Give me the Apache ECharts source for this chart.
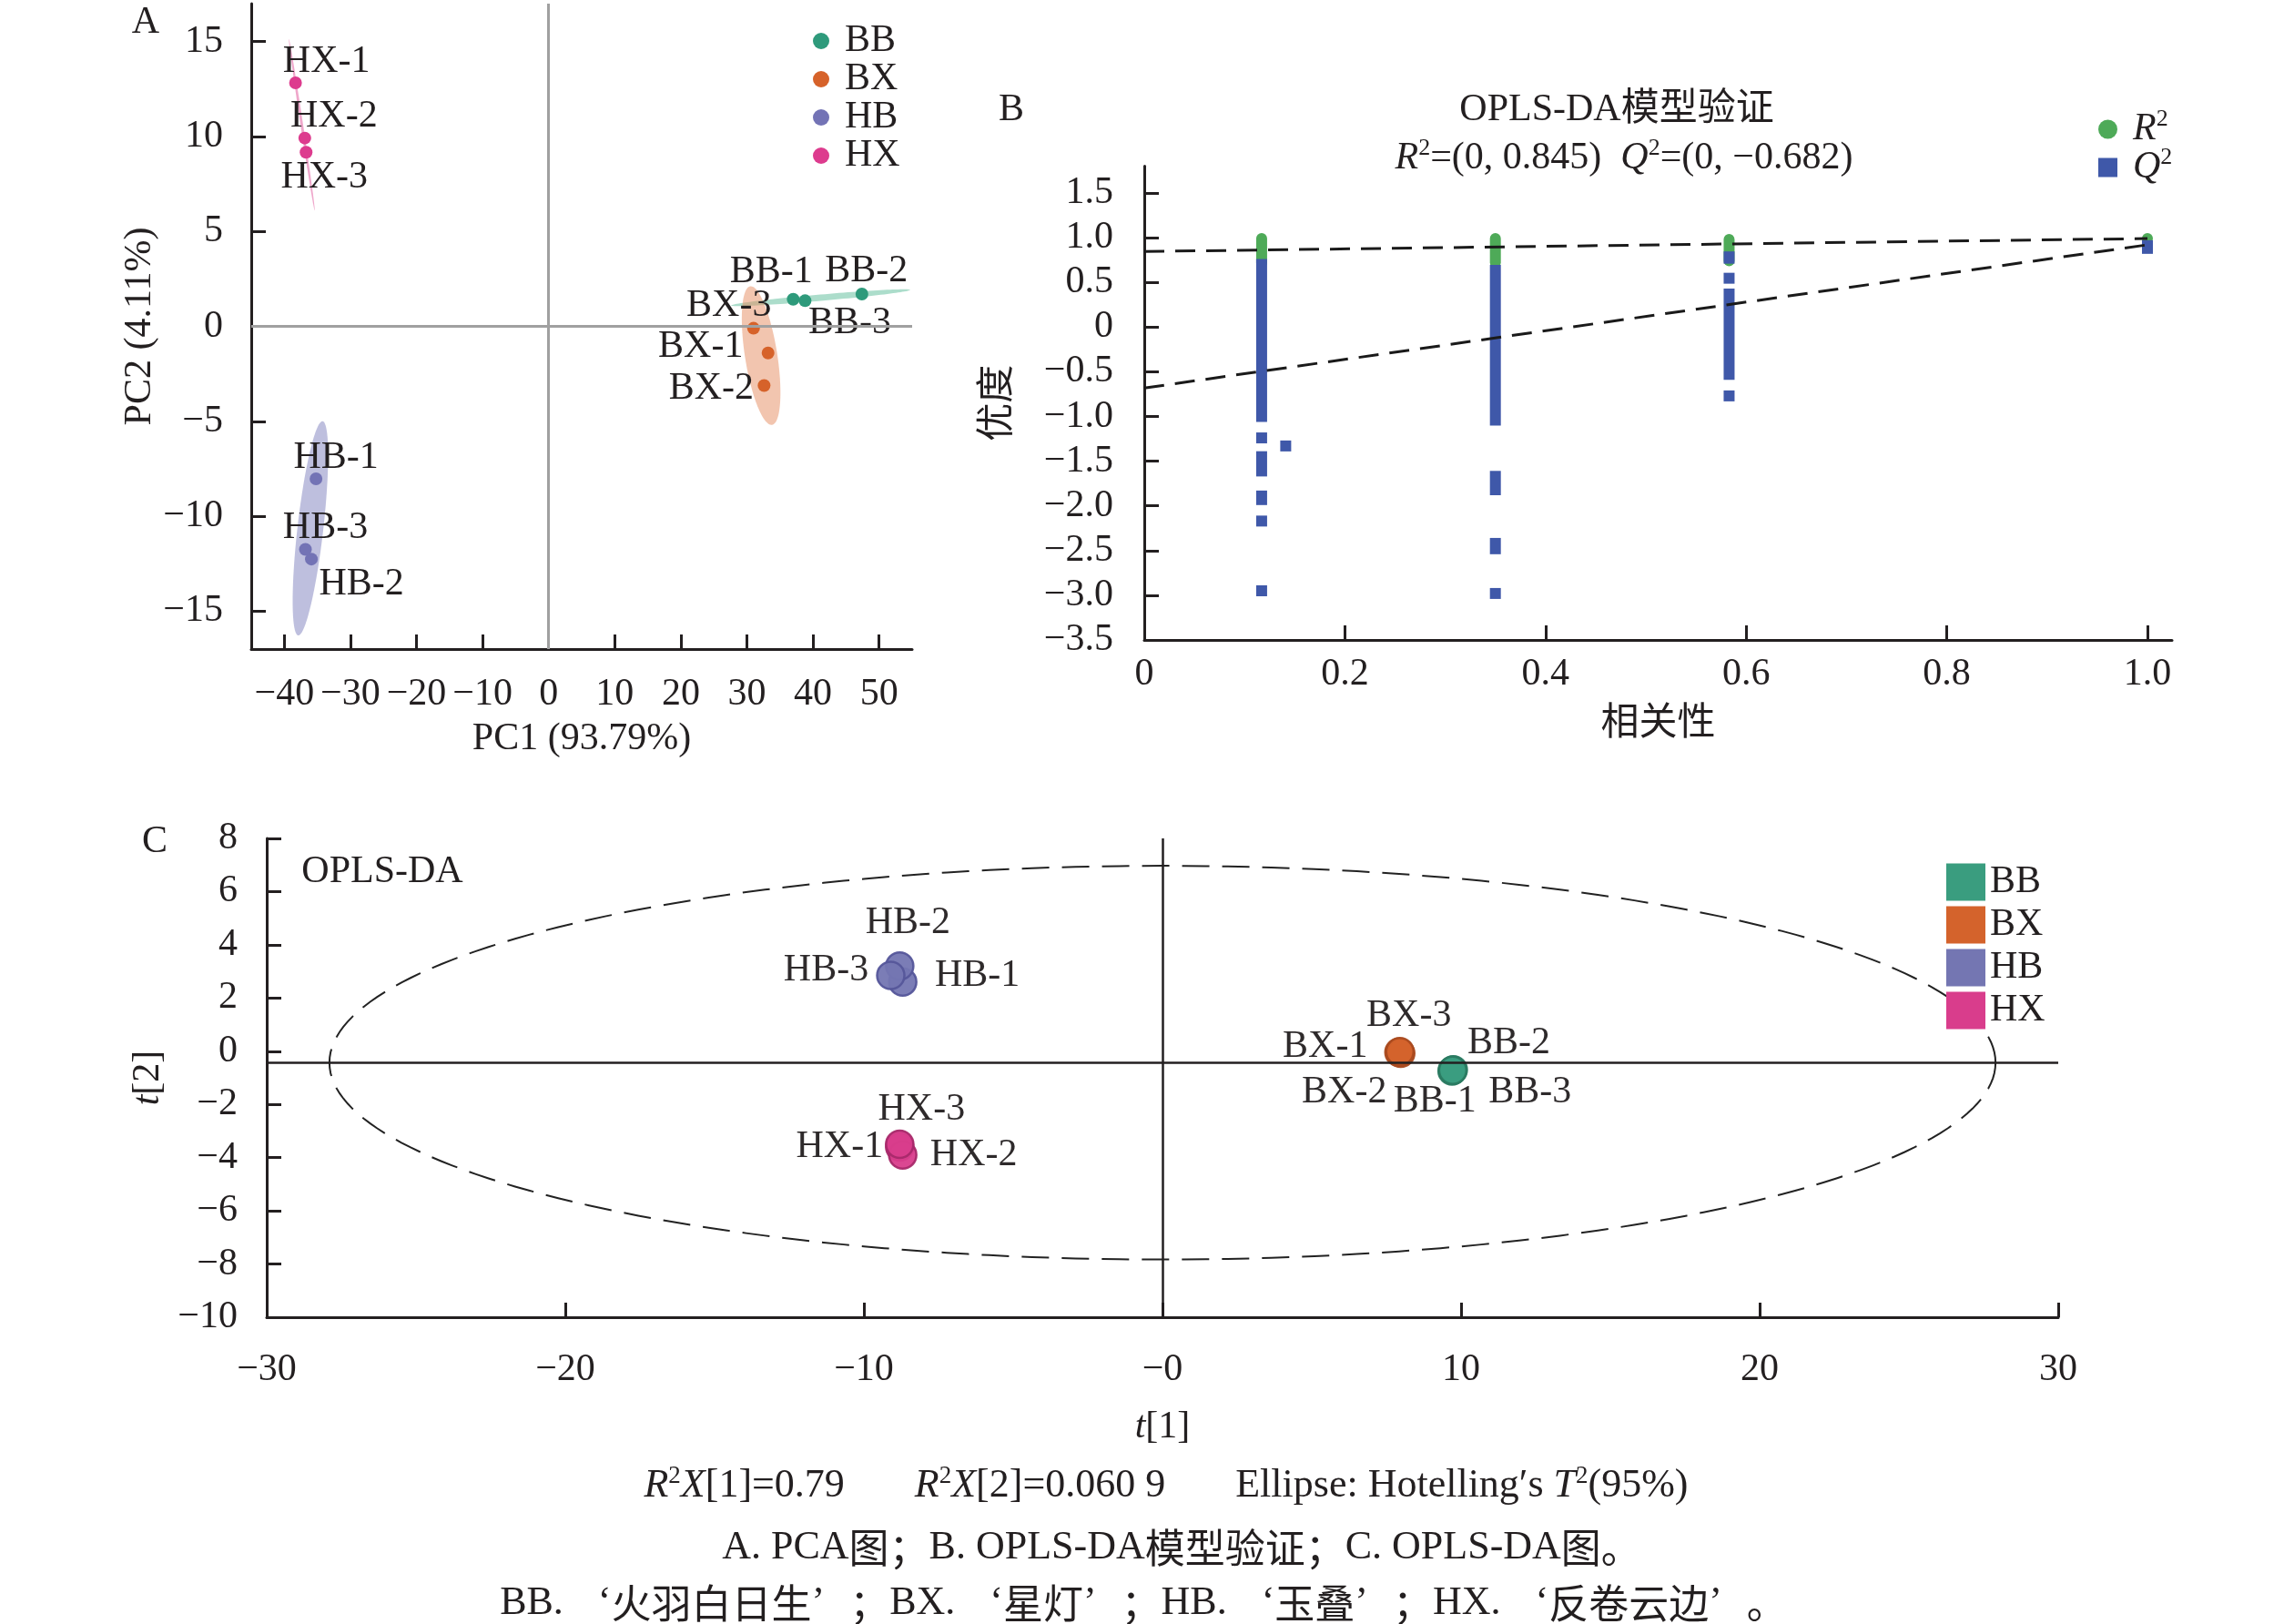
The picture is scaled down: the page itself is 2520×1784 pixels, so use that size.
<!DOCTYPE html>
<html><head><meta charset="utf-8">
<script src="https://cdn.jsdelivr.net/npm/echarts@6/dist/echarts.min.js"></script>
<style>html,body{margin:0;padding:0;background:#fff}#chart{width:2520px;height:1784px}</style>
</head><body><div id="chart"></div>
<script>
// ---------------- DATA ----------------
const groups = ['BB', 'BX', 'HB', 'HX'];
// Panel A: PCA scores [PC1, PC2] for replicates -1, -2, -3
const pcaBB = [[37.0, 1.43], [47.4, 1.70], [38.8, 1.35]];
const pcaBX = [[33.2, -1.40], [32.6, -3.12], [31.0, -0.10]];
const pcaHB = [[-35.2, -8.03], [-35.9, -12.26], [-36.8, -11.75]];
const pcaHX = [[-38.3, 12.83], [-36.9, 9.92], [-36.7, 9.17]];
// Panel A confidence ellipses: [end1 PC1, end1 PC2, end2 PC1, end2 PC2, minor/major ratio]
const pcaEllBB = [27.6, 1.10, 54.7, 1.92, 0.035];
const pcaEllBX = [30.5, 2.11, 33.8, -5.19, 0.23];
const pcaEllHB = [-34.2, -5.0, -37.9, -16.28, 0.12];
const pcaEllHX = [-39.3, 15.13, -35.4, 6.1, 0.015];
const pcaXTicks = [-40, -30, -20, -10, 0, 10, 20, 30, 40, 50];
const pcaYTicks = [-15, -10, -5, 0, 5, 10, 15];

// Panel B: permutation test, stacks of points [correlation, top value, bottom value]
const r2Stacks = [[0.117, 0.99, 0.72], [0.35, 0.99, 0.72], [0.583, 0.98, 0.74], [1.0, 0.99, 0.99]];
const q2Stacks = [
  [0.117, 0.70, -1.00], [0.117, -1.24, -1.24], [0.117, -1.45, -1.61], [0.117, -1.89, -1.93],
  [0.117, -2.17, -2.17], [0.117, -2.95, -2.95], [0.141, -1.33, -1.33],
  [0.35, 0.635, -1.04], [0.35, -1.67, -1.82], [0.35, -2.42, -2.48], [0.35, -2.98, -2.98],
  [0.583, 0.785, 0.77], [0.583, 0.546, 0.546], [0.583, 0.37, -0.53], [0.583, -0.77, -0.77],
  [1.0, 0.91, 0.88]
];
const r2Fit = [[0, 0.845], [1.0, 0.99]];
const q2Fit = [[0, -0.682], [1.0, 0.92]];
const permXTicks = [0, 0.2, 0.4, 0.6, 0.8, 1.0];
const permYTicks = [-3.5, -3.0, -2.5, -2.0, -1.5, -1.0, -0.5, 0, 0.5, 1.0, 1.5];

// Panel C: OPLS-DA scores [t1, t2] for replicates -1, -2, -3
const oplsBB = [[9.70, -0.74], [9.74, -0.70], [9.72, -0.72]];
const oplsBX = [[7.92, -0.04], [7.98, -0.08], [7.95, -0.02]];
const oplsHB = [[-8.7, 2.6], [-8.8, 3.2], [-9.1, 2.85]];
const oplsHX = [[-8.8, -3.6], [-8.7, -3.9], [-8.8, -3.5]];
// Hotelling T2 ellipse: [center t1, center t2, semi-axis t1, semi-axis t2]
const oplsEllipse = [0, -0.43, 27.9, 7.4];
const oplsCenterT2 = -0.43;

// ---------------- STYLE ----------------
const T = '#231f20';
const FONT = "'Liberation Serif','Noto Sans CJK SC',serif";
const CJK = "'Noto Sans CJK SC',sans-serif";
const FS = 42;
const colA = {BB: '#2e9a7b', BX: '#d6622a', HB: '#7373b5', HX: '#dd3b8e'};
const colC = {BB: '#3a9d7f', BX: '#d4632c', HB: '#7476b2', HX: '#d93d8c'};
const borderC = {BB: '#2a7a61', BX: '#a94a1f', HB: '#55569a', HX: '#a8296a'};
const ellFillA = {BB: 'rgba(70,180,140,0.45)', BX: 'rgba(230,140,95,0.5)', HB: 'rgba(125,128,190,0.5)', HX: 'rgba(220,60,140,0.45)'};
const pcaSets = {BB: pcaBB, BX: pcaBX, HB: pcaHB, HX: pcaHX};
const pcaEll = {BB: pcaEllBB, BX: pcaEllBX, HB: pcaEllHB, HX: pcaEllHX};
const oplsSets = {BB: oplsBB, BX: oplsBX, HB: oplsHB, HX: oplsHX};
const offA = {'HX-1': [34, -23], 'HX-2': [32, -24], 'HX-3': [20, 28], 'HB-1': [22, -23], 'HB-3': [22, -24], 'HB-2': [55, 28],
  'BB-1': [-24, -30], 'BB-2': [5, -25], 'BB-3': [49, 25], 'BX-3': [-27, -25], 'BX-1': [-74, -7], 'BX-2': [-58, 3]};
const offC = {'HB-2': [9, -47], 'HB-3': [-71, -6], 'HB-1': [82, -7], 'HX-3': [24, -38], 'HX-1': [-66, 0], 'HX-2': [78, 0],
  'BX-3': [10, -39], 'BX-1': [-81, -6], 'BX-2': [-62, 43], 'BB-2': [61, -29], 'BB-1': [-19, 34], 'BB-3': [85, 24]};

const minus = s => String(s).replace(/-/g, '\u2212');
function makeRich(fs) {
  return {
    i: {fontStyle: 'italic', fontSize: fs, fontFamily: FONT, color: T, fill: T, lineHeight: 48},
    s: {fontSize: Math.round(fs * 0.62), fontFamily: FONT, color: T, fill: T, verticalAlign: 'top', lineHeight: 26},
    n: {fontSize: fs, fontFamily: FONT, color: T, fill: T, lineHeight: 48},
    ql: {fontSize: fs, fontFamily: FONT, color: T, fill: T, lineHeight: 48, padding: [0, 0, 0, Math.round(fs * 0.62)]},
    qr: {fontSize: fs, fontFamily: FONT, color: T, fill: T, lineHeight: 48, padding: [0, Math.round(fs * 0.62), 0, 0]},
    c: {fontSize: fs, fontFamily: CJK, color: T, fill: T, lineHeight: 48}
  };
}
const rich = makeRich(FS);
const richCap = makeRich(44);
const txt = {color: T, fontSize: FS, fontFamily: FONT};

function axisBase(extra) {
  return Object.assign({
    type: 'value',
    axisLine: {onZero: false, lineStyle: {color: T, width: 3}},
    axisTick: {inside: true, length: 16, lineStyle: {color: T, width: 3}},
    splitLine: {show: false},
    nameLocation: 'middle',
    nameTextStyle: Object.assign({rich: rich}, txt)
  }, extra);
}

function ellipseA(params, api) {
  const p1 = api.coord([api.value(0), api.value(1)]);
  const p2 = api.coord([api.value(2), api.value(3)]);
  const ratio = api.value(4);
  const cx = (p1[0] + p2[0]) / 2, cy = (p1[1] + p2[1]) / 2;
  const dx = (p2[0] - p1[0]) / 2, dy = (p2[1] - p1[1]) / 2;
  const a = Math.hypot(dx, dy), ux = dx / a, uy = dy / a, b = Math.max(a * ratio, 1.2);
  const pts = [];
  for (let k = 0; k < 120; k++) {
    const t = k / 120 * 2 * Math.PI;
    pts.push([cx + a * Math.cos(t) * ux - b * Math.sin(t) * uy, cy + a * Math.cos(t) * uy + b * Math.sin(t) * ux]);
  }
  return {type: 'polygon', shape: {points: pts}, style: {fill: api.visual('color')}};
}

function ellipseC(params, api) {
  const cx = api.value(0), cy = api.value(1), rx = api.value(2), ry = api.value(3);
  const pts = [];
  for (let k = 0; k <= 240; k++) {
    const t = k / 240 * 2 * Math.PI;
    pts.push(api.coord([cx + rx * Math.cos(t), cy + ry * Math.sin(t)]));
  }
  return {type: 'polyline', shape: {points: pts}, style: {stroke: '#222', fill: null, lineWidth: 2, lineDash: [30, 14]}};
}

function stackItem(w, r) {
  return function (params, api) {
    const x = api.value(0);
    const p1 = api.coord([x, api.value(1)]);
    const p2 = api.coord([x, api.value(2)]);
    return {type: 'rect', shape: {x: p1[0] - w / 2, y: p1[1] - w / 2, width: w, height: p2[1] - p1[1] + w, r: r},
      style: {fill: api.visual('color')}};
  };
}

const series = [];
// Panel A ellipses
groups.forEach(g => series.push({
  type: 'custom', xAxisIndex: 0, yAxisIndex: 0, z: 1, silent: true, clip: true,
  itemStyle: {color: ellFillA[g]}, renderItem: ellipseA, data: [pcaEll[g]]
}));
// Panel A zero lines
series.push({
  type: 'line', xAxisIndex: 0, yAxisIndex: 0, data: [], z: 2, silent: true,
  markLine: {silent: true, symbol: ['none', 'none'], label: {show: false}, animation: false,
    lineStyle: {color: '#a0a0a0', width: 3, type: 'solid'}, data: [{xAxis: 0}, {yAxis: 0}]}
});
// Panel A points
groups.forEach(g => series.push({
  name: g, type: 'scatter', xAxisIndex: 0, yAxisIndex: 0, z: 4, symbolSize: 14,
  itemStyle: {color: colA[g], opacity: 1},
  label: Object.assign({show: true, position: 'inside', formatter: '{b}'}, txt),
  data: pcaSets[g].map((p, i) => {
    const nm = g + '-' + (i + 1);
    return {name: nm, value: p, label: {offset: offA[nm]}};
  })
}));
// Panel B
series.push({name: 'R2', type: 'custom', xAxisIndex: 1, yAxisIndex: 1, z: 2, itemStyle: {color: '#4eaa58'},
  renderItem: stackItem(12, 6), data: r2Stacks});
series.push({name: 'Q2', type: 'custom', xAxisIndex: 1, yAxisIndex: 1, z: 3, itemStyle: {color: '#3f58a9'},
  renderItem: stackItem(12, 0), data: q2Stacks});
[r2Fit, q2Fit].forEach(d => series.push({
  type: 'line', xAxisIndex: 1, yAxisIndex: 1, z: 5, symbol: 'none', silent: true, data: d,
  lineStyle: {color: '#1a1a1a', width: 3, type: [22, 12]}
}));
// Panel C ellipse and reference lines
series.push({type: 'custom', xAxisIndex: 2, yAxisIndex: 2, z: 1, silent: true, renderItem: ellipseC, data: [oplsEllipse]});
series.push({
  type: 'line', xAxisIndex: 2, yAxisIndex: 2, data: [], z: 2, silent: true,
  markLine: {silent: true, symbol: ['none', 'none'], label: {show: false}, animation: false,
    lineStyle: {color: T, width: 2.5, type: 'solid'}, data: [{xAxis: 0}, {yAxis: oplsCenterT2}]}
});
groups.forEach(g => series.push({
  name: g, type: 'scatter', xAxisIndex: 2, yAxisIndex: 2, z: 4, symbolSize: 30,
  itemStyle: {color: colC[g], borderColor: borderC[g], borderWidth: 2.5, opacity: 0.95},
  label: Object.assign({show: true, position: 'inside', formatter: '{b}'}, txt),
  data: oplsSets[g].map((p, i) => {
    const nm = g + '-' + (i + 1);
    return {name: nm, value: p, label: {offset: offC[nm]}};
  })
}));

function gText(x, y, text, fs, r) {
  return {type: 'text', x: x, y: y, silent: true, z: 10,
    style: {text: text, fill: T, fontSize: fs || FS, fontFamily: FONT, align: 'center', verticalAlign: 'middle', rich: r || rich}};
}

const option = {
  backgroundColor: '#fff',
  animation: false,
  grid: [
    {left: 276, top: 4, width: 726, height: 709},
    {left: 1257, top: 182.5, width: 1129, height: 520.5},
    {left: 293, top: 921, width: 1968, height: 526}
  ],
  xAxis: [
    axisBase({gridIndex: 0, min: -45, max: 55, name: 'PC1 (93.79%)', nameGap: 78,
      axisTick: {inside: true, length: 16, lineStyle: {color: T, width: 3}, customValues: pcaXTicks},
      axisLabel: Object.assign({customValues: pcaXTicks, margin: 29, formatter: v => minus(v)}, txt)}),
    axisBase({gridIndex: 1, min: 0, max: 1.0245, name: '相关性', nameGap: 72,
      axisTick: {inside: true, length: 16, lineStyle: {color: T, width: 3}, customValues: permXTicks},
      axisLabel: Object.assign({customValues: permXTicks, margin: 17, formatter: v => v === 0 ? '0' : v.toFixed(1)}, txt)}),
    axisBase({gridIndex: 2, min: -30, max: 30, interval: 10, name: '{i|t}{n|[1]}', nameGap: 97,
      axisLabel: Object.assign({margin: 37, formatter: v => v === 0 ? '\u22120' : minus(v)}, txt)})
  ],
  yAxis: [
    axisBase({gridIndex: 0, min: -17, max: 17, name: 'PC2 (4.11%)', nameGap: 96,
      axisTick: {inside: true, length: 16, lineStyle: {color: T, width: 3}, customValues: pcaYTicks},
      axisLabel: Object.assign({customValues: pcaYTicks, margin: 31, formatter: v => minus(v)}, txt)}),
    axisBase({gridIndex: 1, min: -3.5, max: 1.8, name: '优度', nameGap: 139,
      axisTick: {inside: true, length: 16, lineStyle: {color: T, width: 3}, customValues: permYTicks},
      axisLabel: Object.assign({customValues: permYTicks, margin: 34, formatter: v => v === 0 ? '0' : minus(v.toFixed(1))}, txt)}),
    axisBase({gridIndex: 2, min: -10, max: 8, interval: 2, name: '{i|t}{n|[2]}', nameGap: 94,
      axisLabel: Object.assign({margin: 32, formatter: v => minus(v)}, txt)})
  ],
  legend: [
    {orient: 'vertical', left: 888, top: 19, itemWidth: 18, itemHeight: 18, itemGap: 0, selectedMode: false,
      data: groups.map(g => ({name: g, icon: 'circle', itemStyle: {color: colA[g]}})),
      textStyle: Object.assign({lineHeight: 37.5, padding: [0, 0, 0, 12]}, txt)},
    {orient: 'vertical', left: 2300, top: 113, itemWidth: 21, itemHeight: 21, itemGap: -6, selectedMode: false,
      data: [{name: 'R2', icon: 'circle', itemStyle: {color: '#4eaa58'}}, {name: 'Q2', icon: 'rect', itemStyle: {color: '#3f58a9'}}],
      formatter: n => n === 'R2' ? '{i|R}{s|2}' : '{i|Q}{s|2}',
      textStyle: Object.assign({rich: rich, lineHeight: 42, padding: [0, 0, 0, 12]}, txt)},
    {orient: 'vertical', left: 2133, top: 943, itemWidth: 43, itemHeight: 41, itemGap: 5, selectedMode: false,
      data: groups.map(g => ({name: g, icon: 'rect', itemStyle: {color: colC[g]}})),
      textStyle: Object.assign({lineHeight: 41, padding: [0, 0, 0, 0]}, txt)}
  ],
  graphic: [
    gText(160, 25, 'A'),
    gText(1111, 121, 'B'),
    gText(170, 925, 'C'),
    gText(1776, 121, 'OPLS-DA模型验证'),
    gText(1784, 174, '{i|R}{s|2}{n|=(0, 0.845)  }{i|Q}{s|2}{n|=(0, \u22120.682)}'),
    gText(420, 958, 'OPLS-DA'),
    gText(1281, 1632, '{i|R}{s|2}{i|X}{n|[1]=0.79\u2003\u2002 }{i|R}{s|2}{i|X}{n|[2]=0.060 9\u2003\u2002 Ellipse: Hotelling\u2032s }{i|T}{s|2}{n|(95%)}', 44, richCap),
    gText(1298, 1700, '{n|A. PCA}{c|图；}{n|B. OPLS-DA}{c|模型验证；}{n|C. OPLS-DA}{c|图。}', 44, richCap),
    gText(1256, 1761, '{n|BB. }{ql|‘}{c|火羽白日生}{qr|’}{c|；}{n|BX. }{ql|‘}{c|星灯}{qr|’}{c|；}{n|HB. }{ql|‘}{c|玉叠}{qr|’}{c|；}{n|HX. }{ql|‘}{c|反卷云边}{qr|’}{c|。}', 44, richCap)
  ],
  series: series
};
const chart = echarts.init(document.getElementById('chart'), null, {width: 2520, height: 1784});
chart.setOption(option);
</script></body></html>
